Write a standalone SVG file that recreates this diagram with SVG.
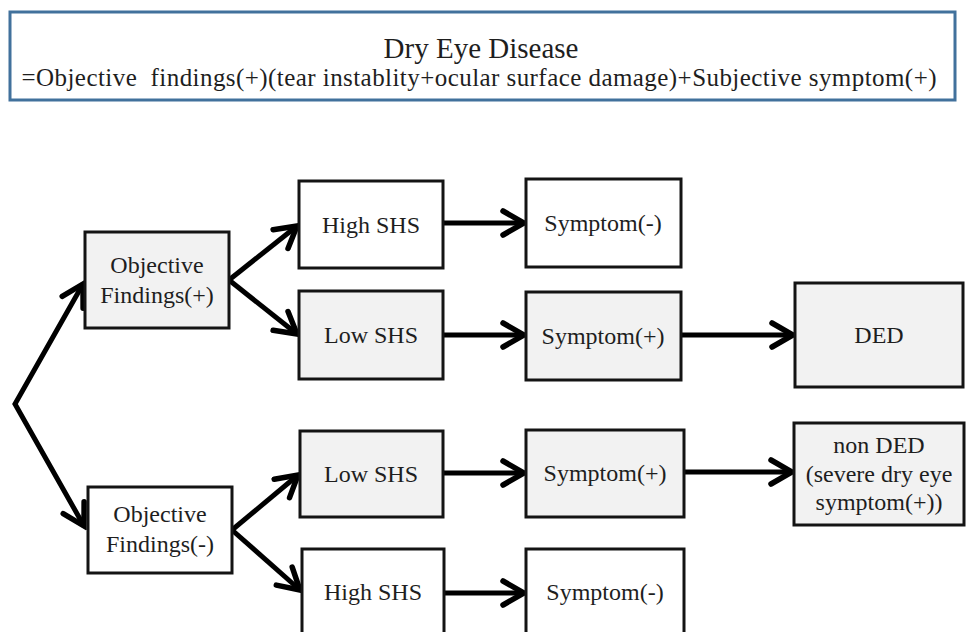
<svg xmlns="http://www.w3.org/2000/svg" width="969" height="632" viewBox="0 0 969 632">
<style>
.box{stroke:#141414;stroke-width:3}
.g{fill:#f2f2f2}
.w{fill:#ffffff}
.t{font-size:24px}
.c{fill:none;stroke:#000;stroke-width:5;marker-end:url(#ah)}
</style>
<defs>
<marker id="ah" markerUnits="userSpaceOnUse" viewBox="0 0 30 30" markerWidth="30" markerHeight="30" refX="25" refY="15" orient="auto-start-reverse">
<path d="M4,3 L25,15 L4,27" fill="none" stroke="#000" stroke-width="5.5" stroke-linecap="round" stroke-linejoin="miter"/>
</marker>
</defs>
<rect width="969" height="632" fill="#ffffff"/>
<g fill="#1e1e1e" text-anchor="middle" font-family="Liberation Serif, Times New Roman, serif">
<g id="header">
<rect x="10" y="12" width="945" height="88" fill="#ffffff" stroke="#41719c" stroke-width="3"/>
<text x="481" y="58" font-size="29">Dry Eye Disease</text>
<text x="479" y="86" font-size="25" xml:space="preserve" textLength="915" lengthAdjust="spacing">=Objective  findings(+)(tear instablity+ocular surface damage)+Subjective symptom(+)</text>
</g>
<g id="connectors">
<path class="c" d="M83,284 L15,404 L84,526" style="marker-start:url(#ah)"/>
<line class="c" x1="229" y1="280" x2="297" y2="226"/>
<line class="c" x1="229" y1="280" x2="297" y2="334"/>
<line class="c" x1="232" y1="530" x2="298" y2="475"/>
<line class="c" x1="232" y1="530" x2="300" y2="590"/>
<line class="c" x1="443" y1="223" x2="524" y2="223"/>
<line class="c" x1="443" y1="335" x2="524" y2="335"/>
<line class="c" x1="681" y1="335" x2="793" y2="335"/>
<line class="c" x1="443" y1="473" x2="524" y2="473"/>
<line class="c" x1="684" y1="472" x2="792" y2="472"/>
<line class="c" x1="444" y1="593" x2="524" y2="593"/>
</g>
<g id="objPlus">
<rect class="box g" x="85" y="232" width="144" height="96"/>
<text class="t" x="157" y="273">Objective</text>
<text class="t" x="157" y="303">Findings(+)</text>
</g>
<g id="highSHS1">
<rect class="box w" x="299" y="181" width="144" height="87"/>
<text class="t" x="371" y="233">High SHS</text>
</g>
<g id="lowSHS1">
<rect class="box g" x="299" y="291" width="144" height="88"/>
<text class="t" x="371" y="343">Low SHS</text>
</g>
<g id="symMinus1">
<rect class="box w" x="526" y="179" width="155" height="88"/>
<text class="t" x="603" y="231">Symptom(-)</text>
</g>
<g id="symPlus1">
<rect class="box g" x="526" y="292" width="155" height="88"/>
<text class="t" x="603" y="344">Symptom(+)</text>
</g>
<g id="ded">
<rect class="box g" x="795" y="283" width="168" height="104"/>
<text class="t" x="879" y="343">DED</text>
</g>
<g id="objMinus">
<rect class="box w" x="88" y="487" width="144" height="86"/>
<text class="t" x="160" y="522">Objective</text>
<text class="t" x="160" y="552">Findings(-)</text>
</g>
<g id="lowSHS2">
<rect class="box g" x="300" y="431" width="143" height="86"/>
<text class="t" x="371" y="482">Low SHS</text>
</g>
<g id="highSHS2">
<rect class="box w" x="302" y="549" width="142" height="95"/>
<text class="t" x="373" y="600">High SHS</text>
</g>
<g id="symPlus2">
<rect class="box g" x="526" y="430" width="158" height="87"/>
<text class="t" x="605" y="481">Symptom(+)</text>
</g>
<g id="nonDED">
<rect class="box g" x="794" y="423" width="170" height="102"/>
<text class="t" x="879" y="453">non DED</text>
<text class="t" x="879" y="482">(severe dry eye</text>
<text class="t" x="879" y="510">symptom(+))</text>
</g>
<g id="symMinus2">
<rect class="box w" x="526" y="549" width="158" height="95"/>
<text class="t" x="605" y="600">Symptom(-)</text>
</g>
</g>
</svg>
